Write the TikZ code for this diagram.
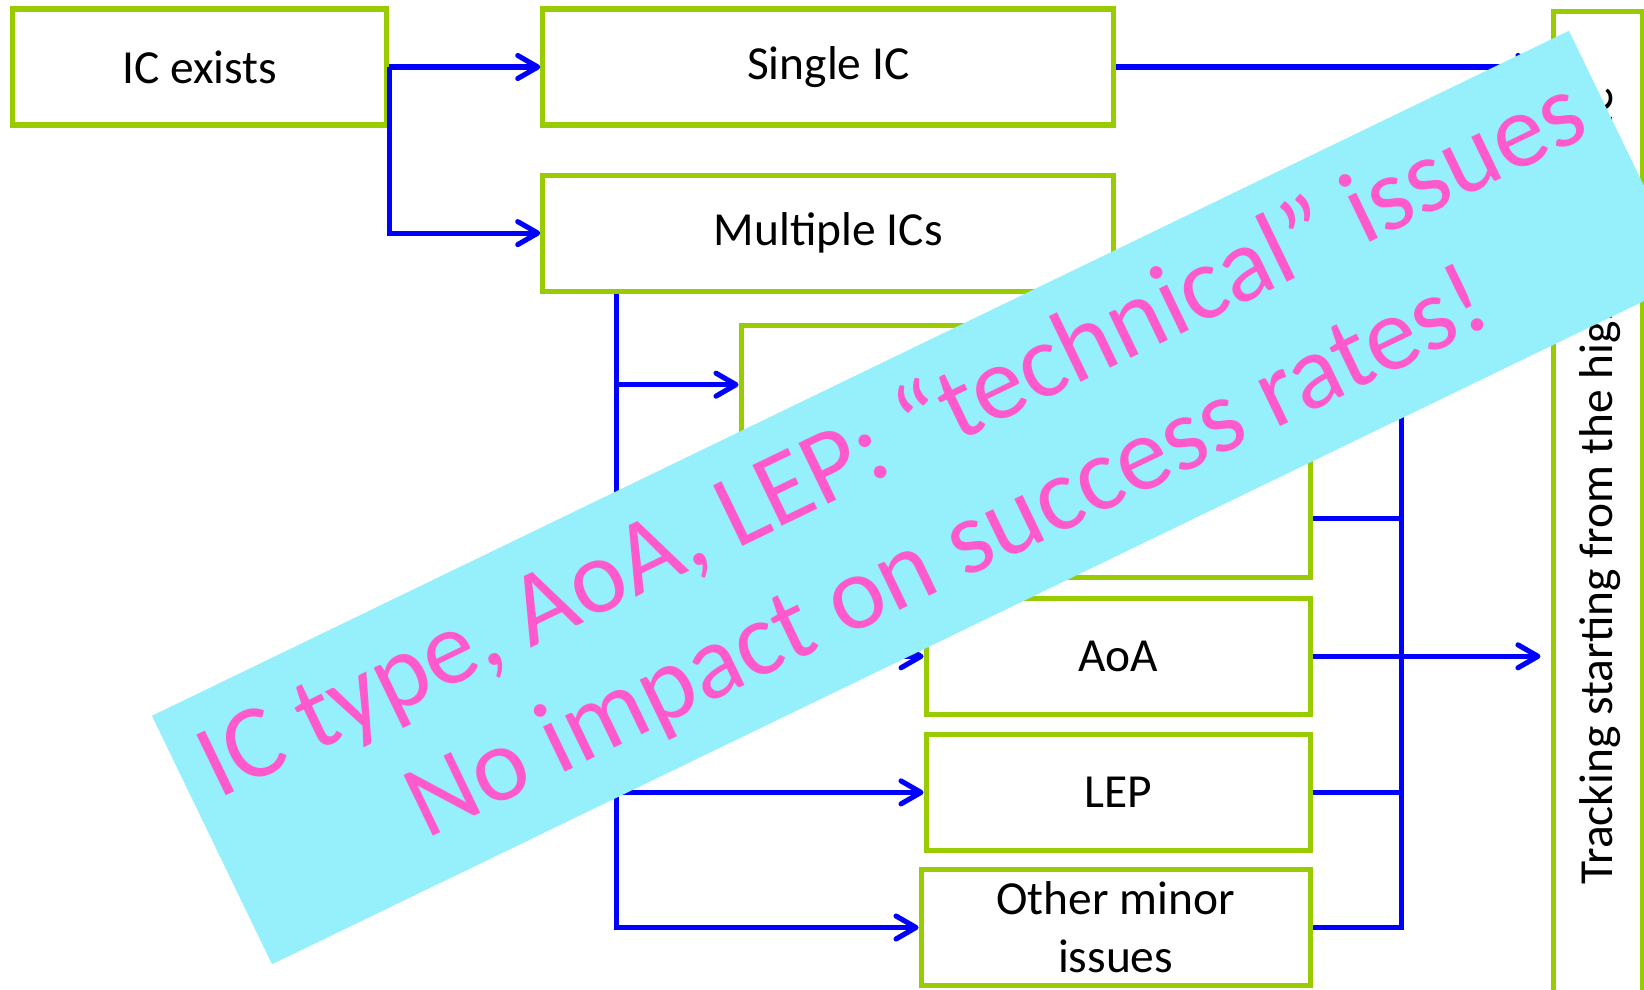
\documentclass[tikz,border=0pt]{standalone}
\usepackage{fontspec}
\setmainfont{Carlito}
\usepackage{tikz}
\usetikzlibrary{arrows.meta,positioning,calc}
\definecolor{boxgreen}{HTML}{99CC00}
\definecolor{linkblue}{HTML}{0000FF}
\definecolor{notecyan}{HTML}{96F0FC}
\definecolor{notepink}{HTML}{FF5ACD}

\begin{document}
\begin{tikzpicture}[every node/.style={font=\fontsize{13.5}{16.5}\selectfont}]
    \tikzstyle{branch}=[draw=boxgreen,line width=1.45pt,fill=white,minimum height=1.16cm,align=center,inner sep=1pt]
    \tikzstyle{link}=[linkblue,line width=1.45pt]
    \tikzstyle{flow}=[link,-{Straight Barb[length=2mm,width=2.3mm,round]}]
    \tikzstyle{note}=[fill=notecyan,rotate=25.8,minimum width=15.74cm,minimum height=2.76cm,inner sep=0pt,align=center,text=notepink,font=\fontsize{29.9}{36}\selectfont]
    \useasboundingbox (0,0) rectangle (16.44,-9.89);
    \node[branch,minimum width=3.74cm] (exists) at (1.9975,-0.67) {IC exists};
    \node[branch,minimum width=5.71cm,right=1.51cm of exists] (single) {Single IC};
    \node[branch,minimum width=5.71cm,below=0.45cm of single] (multi) {Multiple ICs};
    \node[branch,minimum width=5.69cm,minimum height=2.52cm,below=0.29cm of multi,xshift=1.9725cm] (ictype) {};
    \node[branch,minimum width=3.84cm,below=0.16cm of ictype.south east,anchor=north east] (aoa) {AoA};
    \node[branch,minimum width=3.84cm,below=0.15cm of aoa] (lep) {LEP};
    \node[branch,minimum width=3.89cm,below=0.14cm of lep.south east,anchor=north east] (other) {Other minor\\issues};
    \node[branch,minimum width=0.89cm,minimum height=9.9cm,anchor=north west] (track) at (15.505,-0.085) {};
    \node[rotate=90,anchor=base west] (tracktext) at (16.12,-8.97) {Tracking starting from the highest-level IC};
    \coordinate (busL) at ($(multi.south west)+(0.76,0)$);
    \coordinate (busR) at ($(ictype.south east)+(0.89,0)$);
    \coordinate (intype) at ($(ictype.north west)+(0,-0.62)$);
    \coordinate (outtype) at ($(ictype.south east)+(0,0.61)$);
    \draw[flow] (exists.east) -- (single.west);
    \draw[flow] (exists.east) |- (multi.west);
    \draw[flow] (busL) |- (other.west);
    \draw[flow] (busL |- intype) -- (intype);
    \draw[flow] (busL |- aoa.west) -- (aoa.west);
    \draw[flow] (busL |- lep.west) -- (lep.west);
    \draw[link] (outtype) -- (busR |- outtype);
    \draw[link] (busR |- intype) -- (busR |- other.east) -- (other.east);
    \draw[link] (lep.east) -- (busR |- lep.east);
    \draw[flow,shorten >=0.1cm] (aoa.east) -- (aoa.east -| track.west);
    \draw[flow,shorten >=0.1cm] (single.east) -- (single.east -| track.west);
    \node[note] (note) at (9.205,-4.975) {IC type, AoA, LEP: “technical” issues\\No impact on success rates!};
\end{tikzpicture}
\end{document}
